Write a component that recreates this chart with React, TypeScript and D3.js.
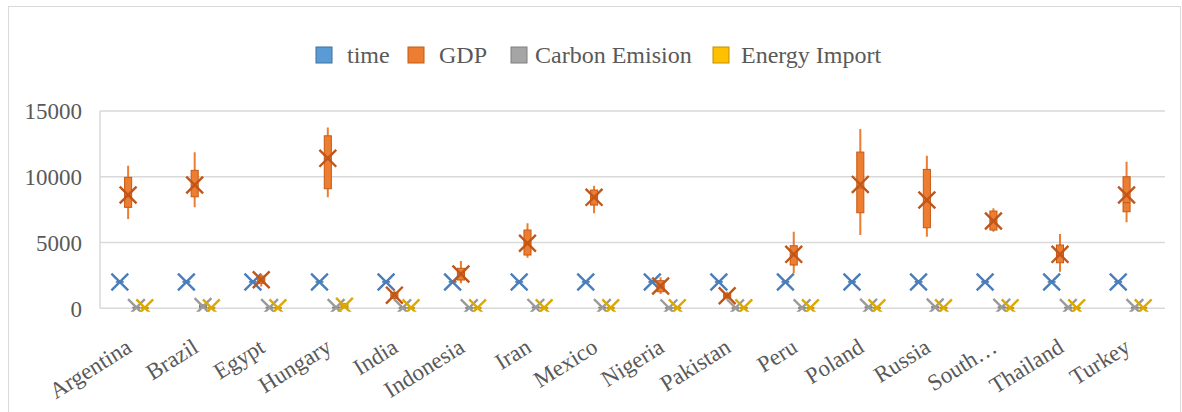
import React from "react";
import * as d3 from "d3";

const categories = ["Argentina","Brazil","Egypt","Hungary","India","Indonesia","Iran","Mexico","Nigeria","Pakistan","Peru","Poland","Russia","South…","Thailand","Turkey"];
const seriesNames = ["time","GDP","Carbon Emision","Energy Import"];
const yTicks = [0,5000,10000,15000];

// GDP box statistics
const gdpMin    = [6785,7675,1650,8435,600,1900,3845,7220,1090,650,2660,5570,5440,5820,2780,6535];
const gdpQ1     = [7675,8480,1900,9090,750,2150,4050,7850,1260,800,3290,7265,6125,5950,3465,7340];
const gdpMedian = [8550,9300,2150,11350,950,2600,4900,8450,1650,950,4050,9140,8100,6650,4050,8025];
const gdpQ3     = [9955,10487,2450,13116,1200,3040,5950,8990,2100,1100,4757,11877,10560,7394,4810,10000];
const gdpMax    = [10840,11855,2600,13755,1400,3594,6460,9317,2356,1250,5821,13625,11600,7600,5646,11140];
const gdpMean   = [8610,9370,2170,11400,1000,2606,4940,8435,1694,950,4100,9420,8230,6634,4100,8610];

// time (years)
const timeMin    = [1990,1990,1990,1990,1990,1990,1990,1990,1990,1990,1990,1990,1990,1990,1990,1990];
const timeQ1     = [1997,1997,1997,1997,1997,1997,1997,1997,1997,1997,1997,1997,1997,1997,1997,1997];
const timeMedian = [2004,2004,2004,2004,2004,2004,2004,2004,2004,2004,2004,2004,2004,2004,2004,2004];
const timeQ3     = [2011,2011,2011,2011,2011,2011,2011,2011,2011,2011,2011,2011,2011,2011,2011,2011];
const timeMax    = [2018,2018,2018,2018,2018,2018,2018,2018,2018,2018,2018,2018,2018,2018,2018,2018];
const timeMean   = [2004,2004,2004,2004,2004,2004,2004,2004,2004,2004,2004,2004,2004,2004,2004,2004];

// Carbon Emision
const carbonMin    = [0,0,0,0,0,0,0,0,0,0,0,0,0,0,0,0];
const carbonQ1     = [20,40,20,20,10,10,30,20,10,10,10,30,40,30,20,20];
const carbonMedian = [50,100,50,60,30,30,70,50,20,20,30,80,90,80,50,50];
const carbonQ3     = [80,250,80,90,50,50,100,80,40,40,50,110,120,110,80,80];
const carbonMax    = [110,320,110,120,70,70,130,110,60,60,70,140,150,140,110,110];
const carbonMean   = [60,130,60,60,40,40,70,60,30,30,40,80,90,80,60,60];

// Energy Import
const energyMin    = [0,0,0,0,0,0,0,0,0,0,0,0,0,0,0,0];
const energyQ1     = [10,10,10,30,10,10,10,10,10,10,10,10,10,10,10,10];
const energyMedian = [30,30,30,150,30,30,30,30,30,30,30,30,30,30,30,30];
const energyQ3     = [50,50,50,350,50,50,50,50,50,50,50,50,50,50,50,50];
const energyMax    = [70,70,70,420,70,70,70,70,70,70,70,70,70,70,70,70];
const energyMean   = [40,40,40,150,40,40,40,40,40,40,40,40,40,40,40,40];

const seriesStats = [
  { min: timeMin, q1: timeQ1, med: timeMedian, q3: timeQ3, max: timeMax, mean: timeMean },
  { min: gdpMin, q1: gdpQ1, med: gdpMedian, q3: gdpQ3, max: gdpMax, mean: gdpMean },
  { min: carbonMin, q1: carbonQ1, med: carbonMedian, q3: carbonQ3, max: carbonMax, mean: carbonMean },
  { min: energyMin, q1: energyQ1, med: energyMedian, q3: energyQ3, max: energyMax, mean: energyMean },
];

const fills = ["#5B9BD5", "#ED7D31", "#A5A5A5", "#FFC000"];
const strokes = ["#41719C", "#C55A11", "#7F7F7F", "#BF9000"];
const markerStrokes = ["#4A7EBB", "#C0561A", "#9A9A9A", "#DDA800"];
const whiskerColors = ["#5B9BD5", "#ED7D31", "#A5A5A5", "#FFC000"];

const W = 1182, H = 412;
const plotL = 100, plotR = 1165, plotT = 111, plotB = 308.3;
const FONT = "'Liberation Serif', 'Times New Roman', serif";

export default function App() {
  const x = d3.scaleBand<string>().domain(categories).range([plotL, plotR]).paddingInner(0).paddingOuter(0);
  const inner = d3.scaleBand<string>().domain(seriesNames).range([0, x.bandwidth()]).paddingInner(0).paddingOuter(2);
  const y = d3.scaleLinear().domain([0, 15000]).range([plotB, plotT]);
  const boxW = inner.step() * 0.85;
  const ms = 8.4;

  const legendItems = [
    { x: 316, tx: 347 },
    { x: 408, tx: 439 },
    { x: 511, tx: 535 },
    { x: 713, tx: 741 },
  ];

  return (
    <svg width={W} height={H} style={{ display: "block", position: "absolute", left: 0, top: 0 }} fontFamily={FONT}>
      <rect x={0} y={0} width={W} height={H} fill="#fff" />
      <rect x={8.5} y={6.5} width={1172} height={420} fill="none" stroke="#d9d9d9" strokeWidth={1} />
      <defs>
        <clipPath id="plotclip">
          <rect x={plotL} y={plotT - 20} width={plotR - plotL} height={plotB - plotT + 23.5} />
        </clipPath>
      </defs>

      {/* legend */}
      {seriesNames.map((s, i) => (
        <g key={s}>
          <rect x={legendItems[i].x} y={47} width={16} height={16} fill={fills[i]} stroke={strokes[i]} strokeWidth={1} />
          <text x={legendItems[i].tx} y={63} fontSize={24} fill="#595959">{s}</text>
        </g>
      ))}

      {/* gridlines */}
      {yTicks.map((t) => (
        <g key={t}>
          <line x1={plotL} x2={plotR} y1={y(t)} y2={y(t)} stroke="#d9d9d9" strokeWidth={1.5} />
          <text x={82} y={y(t)} dy="0.36em" textAnchor="end" fontSize={23} fill="#595959">{t}</text>
        </g>
      ))}
      <line x1={plotL} x2={plotL} y1={plotT} y2={plotB} stroke="#d9d9d9" strokeWidth={1.5} />

      {/* boxes */}
      <g clipPath="url(#plotclip)">
        {categories.map((c, ci) => (
          <g key={c}>
            {seriesNames.map((s, si) => {
              const st = seriesStats[si];
              const cx = (x(c) as number) + (inner(s) as number) + inner.bandwidth() / 2 - 1;
              const yq1 = y(st.q1[ci]), yq3 = y(st.q3[ci]);
              const ym = y(st.mean[ci]);
              return (
                <g key={s}>
                  <line x1={cx} x2={cx} y1={y(st.max[ci])} y2={yq3} stroke={whiskerColors[si]} strokeWidth={2} />
                  <line x1={cx} x2={cx} y1={yq1} y2={y(st.min[ci])} stroke={whiskerColors[si]} strokeWidth={2} />
                  <rect x={cx - boxW / 2} y={yq3} width={boxW} height={Math.max(0.01, yq1 - yq3)} fill={fills[si]} stroke={strokes[si]} strokeWidth={1} />
                  <line x1={cx - boxW / 2} x2={cx + boxW / 2} y1={y(st.med[ci])} y2={y(st.med[ci])} stroke={strokes[si]} strokeWidth={1} />
                  <path d={`M${cx - ms},${ym - ms}L${cx + ms},${ym + ms}M${cx - ms},${ym + ms}L${cx + ms},${ym - ms}`} stroke={markerStrokes[si]} strokeWidth={2.4} fill="none" />
                </g>
              );
            })}
          </g>
        ))}
      </g>

      {/* x labels */}
      {categories.map((c) => {
        const cx = (x(c) as number) + x.bandwidth() / 2;
        return (
          <text key={c} transform={`translate(${cx},${351}) rotate(-32)`} textAnchor="end" fontSize={23} fill="#595959">{c}</text>
        );
      })}
    </svg>
  );
}
